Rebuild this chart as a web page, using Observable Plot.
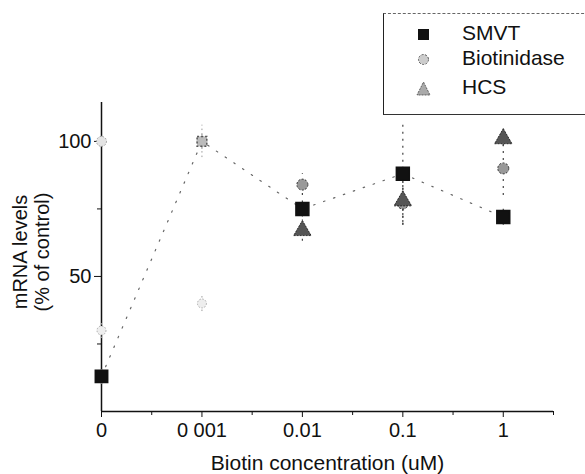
<!DOCTYPE html>
<html>
<head>
<meta charset="utf-8">
<script src="https://cdn.jsdelivr.net/npm/d3@7"></script>
<script src="https://cdn.jsdelivr.net/npm/@observablehq/plot@0.6"></script>
<style>
  html, body { margin: 0; padding: 0; background: #fff; }
  #wrap { position: relative; width: 585px; height: 474px; overflow: hidden; font-family: "Liberation Sans", Arial, sans-serif; }
  #legend { position: absolute; left: 383px; top: 13px; width: 210px; height: 100px;
    border-left: 1.5px solid #222; border-top: 1px dashed #666; border-bottom: 1.5px solid #333; background: #fff; }
  .item { position: absolute; left: 0; font-size: 21px; color: #111; }
  .item svg { position: absolute; left: 31px; top: -8px; }
  .item span { position: absolute; left: 78px; top: -13px; white-space: nowrap; }
  #ylab { position: absolute; left: 9px; top: 252px; transform-origin: 0 0; transform: rotate(-90deg) translate(-50%, 0);
    font-size: 20px; line-height: 22px; text-align: center; color: #111; white-space: nowrap; }
</style>
</head>
<body>
<div id="wrap"></div>
<script>
const concentrations = ["0", "0 001", "0.01", "0.1", "1"];
const seriesNames = ["SMVT", "Biotinidase", "HCS"];
const smvt = [13, 100, 75, 88, 72];
const smvtErr = [3, 6, 3, 19, 3];
const biotinidase = [100, 100, 84, 77, 90];
const biotinidaseErr = [2, 3, 4, 8, 10];
const hcs = [30, 40, 67, 78, 101];
const hcsErr = [3, 3, 4, 8, 3];
const yTicks = [50, 100];
const yMinor = [25, 75];

const rows = [];
const add = (name, vals, errs) => vals.forEach((v, i) => rows.push({series: name, i, v, lo: v - errs[i], hi: v + errs[i]}));
add("SMVT", smvt, smvtErr);
add("Biotinidase", biotinidase, biotinidaseErr);
add("HCS", hcs, hcsErr);
const smvtRows = rows.filter(d => d.series === "SMVT");
const bioRows = rows.filter(d => d.series === "Biotinidase");
const hcsRows = rows.filter(d => d.series === "HCS");
const early = d => d.i < 2;
const late = d => d.i >= 2;

const chart = Plot.plot({
  width: 585,
  height: 474,
  marginLeft: 101,
  marginRight: 32,
  marginTop: 102,
  marginBottom: 63,
  style: {fontFamily: "Liberation Sans, Arial, sans-serif", fontSize: "20px", color: "#111", background: "#fff"},
  x: {domain: [0, 4.5]},
  y: {domain: [0, 114.4]},
  marks: [
    Plot.axisX({ticks: [0, 1, 2, 3, 4], tickFormat: i => concentrations[i], tickSize: 6, tickPadding: 5, label: null, fontSize: 20}),
    Plot.axisX({ticks: [0.5, 1.5, 2.5, 3.5, 4.5], tickFormat: () => "", tickSize: 4, label: null}),
    Plot.axisY({ticks: yTicks, tickSize: 7, tickPadding: 3, label: null, fontSize: 20}),
    Plot.axisY({ticks: yMinor, tickSize: 4, tickFormat: () => "", label: null}),
    Plot.ruleY([0], {stroke: "#111", strokeWidth: 1.5}),
    Plot.ruleX([0], {stroke: "#111", strokeWidth: 1.5}),
    Plot.line(smvtRows, {x: "i", y: "v", stroke: "#666", strokeWidth: 1.2, strokeDasharray: "1.5,9"}),
    Plot.ruleX(rows.filter(late), {x: "i", y1: "lo", y2: "hi", stroke: "#444", strokeWidth: 1.2, strokeDasharray: "2,5"}),
    Plot.ruleX(rows.filter(early), {x: "i", y1: "lo", y2: "hi", stroke: "#999", strokeWidth: 1, strokeDasharray: "1.5,3"}),
    Plot.dot(bioRows.filter(late), {x: "i", y: "v", symbol: "circle", r: 5.5, fill: "#999", stroke: "#333", strokeWidth: 1, strokeDasharray: "2,1.5"}),
    Plot.dot(hcsRows.filter(late), {x: "i", y: "v", symbol: "triangle", r: 6.5, fill: "#555", stroke: "#111", strokeWidth: 0.8, strokeDasharray: "2,1"}),
    Plot.dot(bioRows.filter(early), {x: "i", y: "v", symbol: "circle", r: 5, fill: "#e4e4e4", stroke: "#888", strokeWidth: 0.8, strokeDasharray: "1.5,1.5"}),
    Plot.dot(hcsRows.filter(early), {x: "i", y: "v", symbol: "circle", r: 4.5, fill: "#eee", stroke: "#999", strokeWidth: 0.8, strokeDasharray: "1.5,1.5"}),
    Plot.dot(smvtRows.filter(late), {x: "i", y: "v", symbol: "square", r: 7.3, fill: "#111", stroke: "#111"}),
    Plot.dot(smvtRows.filter(d => d.i === 0), {x: "i", y: "v", symbol: "square", r: 7, fill: "#111", stroke: "#111"}),
    Plot.dot(smvtRows.filter(d => d.i === 1), {x: "i", y: "v", symbol: "square", r: 5.5, fill: "#bbb", stroke: "#555", strokeDasharray: "2,2"}),
    Plot.text(["Biotin concentration (uM)"], {frameAnchor: "bottom", dy: 58, fontSize: 21, fill: "#111"})
  ]
});

const wrap = document.getElementById("wrap");
wrap.appendChild(chart);

const ylab = document.createElement("div");
ylab.id = "ylab";
ylab.innerHTML = "mRNA levels<br>(% of control)";
wrap.appendChild(ylab);

const legend = document.createElement("div");
legend.id = "legend";
const symbols = {
  SMVT: '<rect x="3" y="3" width="11" height="11" fill="#111"/>',
  Biotinidase: '<circle cx="8.5" cy="8.5" r="5" fill="#ccc" stroke="#555" stroke-dasharray="2,1.5"/>',
  HCS: '<path d="M8.5,2 L15,15 L2,15 Z" fill="#aaa" stroke="#444" stroke-width="0.8" stroke-dasharray="2,1"/>'
};
const ys = [20, 45, 74];
seriesNames.forEach((name, k) => {
  const it = document.createElement("div");
  it.className = "item";
  it.style.top = ys[k] + "px";
  it.innerHTML = `<svg width="17" height="17">${symbols[name]}</svg><span>${name}</span>`;
  legend.appendChild(it);
});
wrap.appendChild(legend);
</script>
</body>
</html>
